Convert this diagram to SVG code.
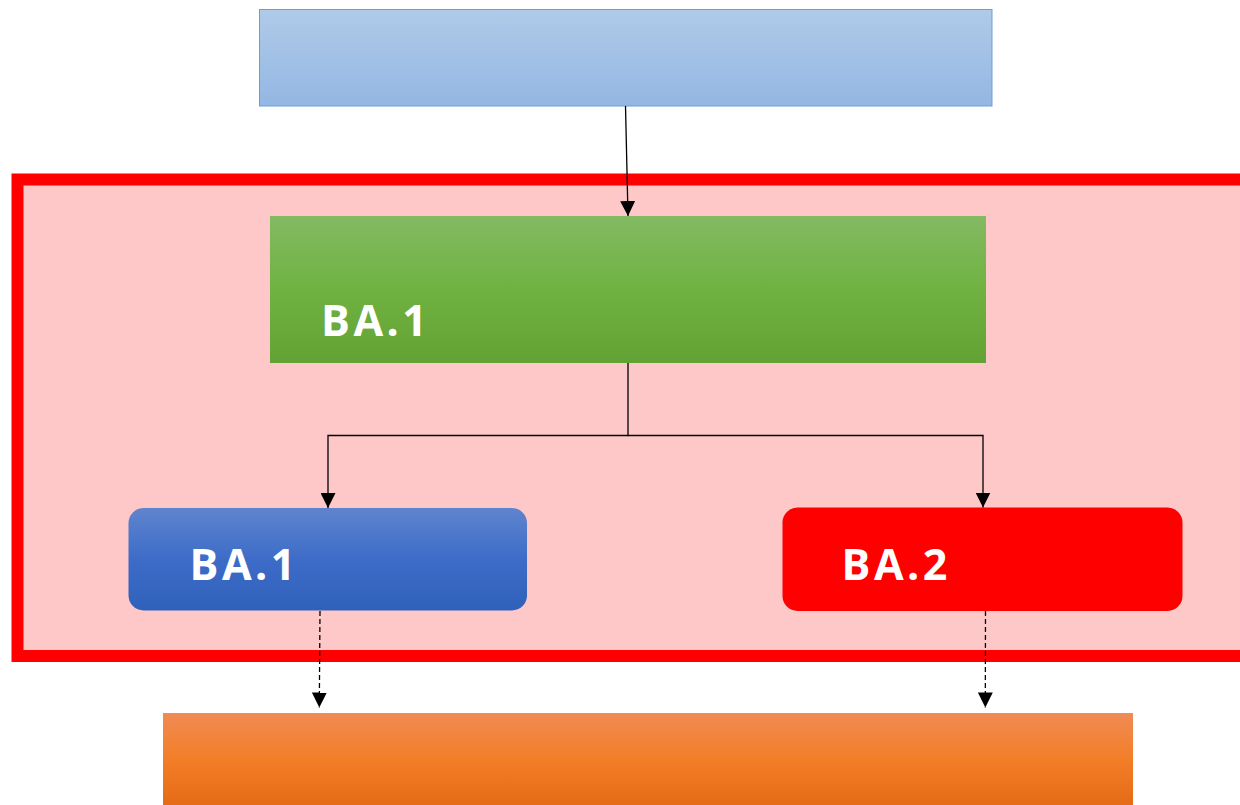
<svg xmlns="http://www.w3.org/2000/svg" width="1240" height="805" viewBox="0 0 1240 805">
<defs>
<linearGradient id="gBlueTop" x1="0" y1="0" x2="0" y2="1"><stop offset="0" stop-color="#B0CAE8"/><stop offset="1" stop-color="#93B7E3"/></linearGradient>
<linearGradient id="gGreen" x1="0" y1="0" x2="0" y2="1"><stop offset="0" stop-color="#83BA63"/><stop offset="0.5" stop-color="#70B241"/><stop offset="1" stop-color="#62A234"/></linearGradient>
<linearGradient id="gBlue" x1="0" y1="0" x2="0" y2="1"><stop offset="0" stop-color="#6084CE"/><stop offset="0.5" stop-color="#3D6CC8"/><stop offset="1" stop-color="#2F61BA"/></linearGradient>
<linearGradient id="gOrange" x1="0" y1="0" x2="0" y2="1"><stop offset="0" stop-color="#F08B54"/><stop offset="0.5" stop-color="#F37E28"/><stop offset="1" stop-color="#E56B17"/></linearGradient>
<marker id="arr" viewBox="0 0 10 10" refX="10" refY="5" markerWidth="15" markerHeight="15" markerUnits="userSpaceOnUse" orient="auto"><path d="M0,0 L10,5 L0,10 z" fill="#000"/></marker>
</defs>
<style>
.lbl{font-family:"Open Sans","Noto Sans","DejaVu Sans",sans-serif;font-weight:bold;font-size:43px;fill:#fff;letter-spacing:3.5px}
.solid{fill:none;stroke:#000;stroke-width:1.3}
.dash{fill:none;stroke:#000;stroke-width:1.3;stroke-dasharray:5 3}
</style>
<rect width="1240" height="805" fill="#fff"/>
<g id="frame"><rect x="17.5" y="179.5" width="1240" height="476.5" fill="#FFC8C8" stroke="#FF0000" stroke-width="12"/></g>
<g id="top"><rect x="259.5" y="9.5" width="732.5" height="96.5" fill="url(#gBlueTop)" stroke="#6A9ED8" stroke-width="1"/></g>
<g id="green"><rect x="270" y="216" width="716" height="147" fill="url(#gGreen)"/><text class="lbl" x="321" y="336">BA.1</text></g>
<g id="ba1"><rect x="128.5" y="508" width="398.5" height="102.5" rx="15" fill="url(#gBlue)"/><text class="lbl" x="189.5" y="579.5">BA.1</text></g>
<g id="ba2"><rect x="782.5" y="507.5" width="400" height="103.5" rx="15" fill="#FF0000"/><text class="lbl" x="841.5" y="579.5">BA.2</text></g>
<g id="bottom"><rect x="163" y="713" width="970" height="92" fill="url(#gOrange)"/></g>
<g id="connectors">
<path class="solid" d="M625.5,106 L628,216" marker-end="url(#arr)"/>
<path class="solid" d="M628,363 V435.5 H328 V508" marker-end="url(#arr)"/>
<path class="solid" d="M628,435.5 H983 V507.5" marker-end="url(#arr)"/>
<path class="dash" d="M320,611 L319.3,707.5" marker-end="url(#arr)"/>
<path class="dash" d="M985.5,611 L985.3,707.5" marker-end="url(#arr)"/>
</g>
</svg>
